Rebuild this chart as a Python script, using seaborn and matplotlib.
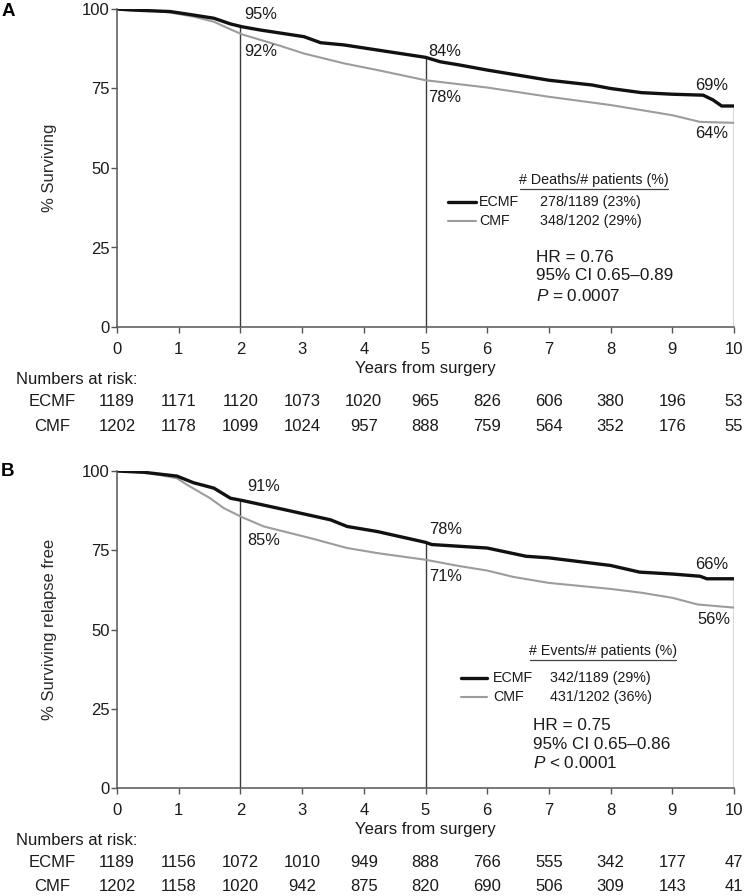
import numpy as np
import pandas as pd
import matplotlib
matplotlib.use("Agg")
import matplotlib.pyplot as plt
from matplotlib.lines import Line2D
from matplotlib.transforms import blended_transform_factory
import seaborn as sns

# ---------------- data ----------------
years = list(range(11))

# Panel A: overall survival (% surviving)
a_ecmf_t = [0, 0.22, 0.86, 1.14, 1.57, 1.84, 2.03, 2.32, 3.03, 3.3, 3.68, 4.22, 5.0, 5.24, 5.55, 6.0, 7.0, 7.7, 8.0, 8.5, 9.0, 9.5, 9.66, 9.8, 10.0]
a_ecmf_s = [100, 99.7, 99.2, 98.4, 97.1, 95.3, 94.4, 93.4, 91.3, 89.4, 88.7, 87.1, 84.8, 83.4, 82.4, 80.8, 77.6, 76.1, 75.0, 73.7, 73.2, 72.9, 71.4, 69.5, 69.5]
a_cmf_t = [0, 0.5, 0.86, 1.24, 1.57, 1.84, 2.03, 2.6, 3.03, 3.68, 4.22, 5.0, 6.0, 7.0, 8.0, 9.0, 9.45, 10.0]
a_cmf_s = [100, 99.6, 98.9, 97.6, 96.0, 93.6, 92.0, 88.7, 86.0, 82.9, 80.8, 77.6, 75.3, 72.4, 69.8, 66.6, 64.5, 64.2]

# Panel B: relapse-free survival
b_ecmf_t = [0, 0.43, 0.97, 1.24, 1.57, 1.84, 2.03, 2.6, 3.46, 3.73, 4.22, 5.0, 5.1, 6.0, 6.63, 7.0, 8.0, 8.47, 9.0, 9.45, 9.56, 10.0]
b_ecmf_s = [100, 99.6, 98.4, 96.3, 94.6, 91.4, 90.7, 88.3, 84.6, 82.5, 80.9, 77.5, 76.8, 75.7, 73.1, 72.6, 70.2, 68.1, 67.5, 66.8, 66.0, 66.0]
b_cmf_t = [0, 0.5, 0.97, 1.14, 1.51, 1.73, 2.03, 2.38, 3.14, 3.73, 4.22, 5.0, 5.55, 6.0, 6.42, 7.0, 8.0, 8.5, 9.0, 9.41, 10.0]
b_cmf_s = [100, 99.5, 97.7, 95.6, 91.4, 88.3, 85.4, 82.5, 78.8, 75.7, 74.1, 72.0, 70.0, 68.6, 66.6, 64.7, 62.8, 61.6, 60.0, 57.9, 56.9]

mark_years = [2, 5, 10]
a_pct_ecmf = [95, 84, 69]
a_pct_cmf = [92, 78, 64]
b_pct_ecmf = [91, 78, 66]
b_pct_cmf = [85, 71, 56]

risk_a_ecmf = [1189, 1171, 1120, 1073, 1020, 965, 826, 606, 380, 196, 53]
risk_a_cmf = [1202, 1178, 1099, 1024, 957, 888, 759, 564, 352, 176, 55]
risk_b_ecmf = [1189, 1156, 1072, 1010, 949, 888, 766, 555, 342, 177, 47]
risk_b_cmf = [1202, 1158, 1020, 942, 875, 820, 690, 506, 309, 143, 41]

arms = ["ECMF", "CMF"]
a_counts = ["278/1189 (23%)", "348/1202 (29%)"]
b_counts = ["342/1189 (29%)", "431/1202 (36%)"]
a_stats = ["HR = 0.76", "95% CI 0.65\u20130.89", "$P$ = 0.0007"]
b_stats = ["HR = 0.75", "95% CI 0.65\u20130.86", "$P$ < 0.0001"]

# ---------------- style ----------------
sns.set_theme(style="ticks")
plt.rcParams['font.family'] = ['Liberation Sans', 'DejaVu Sans']
plt.rcParams['mathtext.fontset'] = 'custom'
plt.rcParams['mathtext.it'] = 'Liberation Sans:italic'
plt.rcParams['mathtext.rm'] = 'Liberation Sans'

W, H = 744, 896
fig = plt.figure(figsize=(W / 100, H / 100), dpi=100)
TXT = '#1a1a1a'
SPINE = '#555555'
BLACK = '#111111'
GREY = '#9c9c9c'
FS = 12
FS_LEG = 10.3
FS_STAT = 12.3


def fx(px):
    return px / W


def fy(py):
    return 1 - py / H


def make_axes(top, bottom, left=117, right=734):
    return fig.add_axes([fx(left), fy(bottom), (right - left) / W, (bottom - top) / H])


def ftext(px, py, s, **kw):
    kw.setdefault('color', TXT)
    fig.text(fx(px), fy(py), s, **kw)


def panel(ax, e_t, e_s, c_t, c_s, ylabel, pct_e, pct_c, up_pos, low_pos):
    df_e = pd.DataFrame({'t': e_t, 's': e_s})
    df_c = pd.DataFrame({'t': c_t, 's': c_s})
    sns.lineplot(data=df_c, x='t', y='s', ax=ax, color=GREY, lw=1.5, estimator=None)
    sns.lineplot(data=df_e, x='t', y='s', ax=ax, color=BLACK, lw=2.4, estimator=None)
    for yr in mark_years:
        top = np.interp(yr, e_t, e_s)
        ax.vlines(yr, 0, top, color='#3a3a3a', lw=1.0, zorder=1)
    for (x, y), v in zip(up_pos, pct_e):
        ax.text(x, y, f"{v}%", ha='left', va='center', fontsize=11.8, color=TXT)
    for (x, y), v in zip(low_pos, pct_c):
        ax.text(x, y, f"{v}%", ha='left', va='center', fontsize=11.8, color=TXT)
    ax.set_xlim(0, 10)
    ax.set_ylim(0, 100)
    ax.set_xticks(years)
    ax.set_yticks([0, 25, 50, 75, 100])
    ax.set_xlabel('')
    ax.set_ylabel(ylabel, fontsize=FS, color='#2a2a2a')
    ax.yaxis.set_label_coords(-0.097, 0.5)
    sns.despine(ax=ax)
    for sp in ['left', 'bottom']:
        ax.spines[sp].set_color(SPINE)
        ax.spines[sp].set_linewidth(1.1)
    ax.tick_params(axis='x', length=4, width=1, color=SPINE, pad=6.5, labelsize=FS, labelcolor=TXT)
    ax.tick_params(axis='y', length=4, width=1, color=SPINE, pad=1.2, labelsize=FS, labelcolor=TXT)
    ax.text(0.5, -0.132, 'Years from surgery', transform=ax.transAxes, ha='center', va='center',
            fontsize=FS, color=TXT)


def risk_table(ax, y_head, y_e, y_c, r_e, r_c):
    tr = blended_transform_factory(ax.transData, fig.transFigure)
    ftext(16, y_head, 'Numbers at risk:', ha='left', va='center', fontsize=FS)
    ftext(52, y_e, arms[0], ha='center', va='center', fontsize=FS)
    ftext(52, y_c, arms[1], ha='center', va='center', fontsize=FS)
    for yr, ve, vc in zip(years, r_e, r_c):
        ax.text(yr, fy(y_e), str(ve), transform=tr, ha='center', va='center', fontsize=FS, color=TXT, clip_on=False)
        ax.text(yr, fy(y_c), str(vc), transform=tr, ha='center', va='center', fontsize=FS, color=TXT, clip_on=False)


def legend_block(head, head_x, head_y, ul_x0, ul_x1, line_x0, line_x1, y_e, y_c, lab_x, cnt_x, counts,
                 stat_x, stat_ys, stats):
    ftext(head_x, head_y, head, ha='center', va='center', fontsize=FS_LEG)
    fig.add_artist(Line2D([fx(ul_x0), fx(ul_x1)], [fy(head_y + 9), fy(head_y + 9)], color='#444444', lw=0.9))
    fig.add_artist(Line2D([fx(line_x0), fx(line_x1)], [fy(y_e), fy(y_e)], color=BLACK, lw=2.4))
    fig.add_artist(Line2D([fx(line_x0), fx(line_x1)], [fy(y_c), fy(y_c)], color=GREY, lw=1.5))
    ftext(lab_x, y_e, arms[0], ha='left', va='center', fontsize=FS_LEG)
    ftext(lab_x, y_c, arms[1], ha='left', va='center', fontsize=FS_LEG)
    ftext(cnt_x, y_e, counts[0], ha='left', va='center', fontsize=FS_LEG)
    ftext(cnt_x, y_c, counts[1], ha='left', va='center', fontsize=FS_LEG)
    for yy, s in zip(stat_ys, stats):
        ftext(stat_x, yy, s, ha='left', va='center', fontsize=FS_STAT)


# ---------------- panel A ----------------
axA = make_axes(9, 327)
panel(axA, a_ecmf_t, a_ecmf_s, a_cmf_t, a_cmf_s, '% Surviving', a_pct_ecmf, a_pct_cmf,
      [(2.06, 98.4), (5.05, 86.5), (9.37, 76.1)], [(2.06, 86.5), (5.05, 72.3), (9.37, 60.7)])
risk_table(axA, 379, 401, 426, risk_a_ecmf, risk_a_cmf)
legend_block('# Deaths/# patients (%)', 594, 180, 520, 668, 448, 476, 202, 221, 479, 540, a_counts,
             536, [257, 276, 296], a_stats)
ftext(8, 12, 'A', ha='center', va='center', fontsize=13.5, fontweight='bold', color='black')

# ---------------- panel B ----------------
axB = make_axes(471, 788)
panel(axB, b_ecmf_t, b_ecmf_s, b_cmf_t, b_cmf_s, '% Surviving relapse free', b_pct_ecmf, b_pct_cmf,
      [(2.11, 95.0), (5.06, 81.4), (9.37, 70.4)], [(2.11, 78.0), (5.06, 66.7), (9.40, 53.1)])
risk_table(axB, 840, 862, 886, risk_b_ecmf, risk_b_cmf)
legend_block('# Events/# patients (%)', 603, 651, 530, 676, 461, 487, 678, 697, 493, 550, b_counts,
             533, [725, 744, 763], b_stats)
ftext(7, 471, 'B', ha='center', va='center', fontsize=13.5, fontweight='bold', color='black')

fig.savefig('out.png', dpi=100, facecolor='white')
